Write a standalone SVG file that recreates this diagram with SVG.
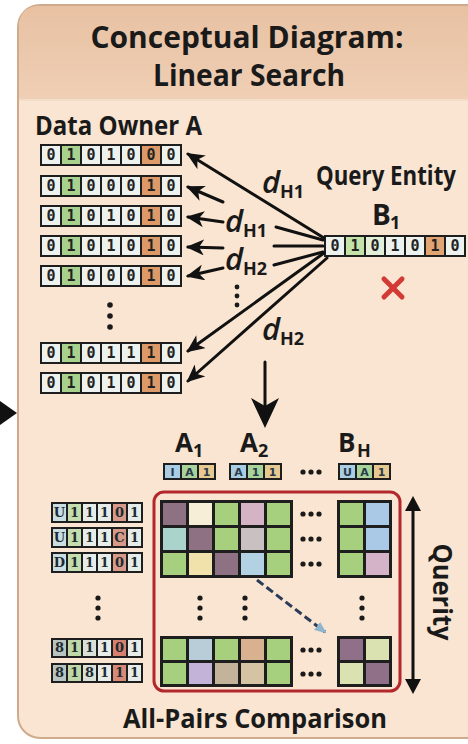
<svg xmlns="http://www.w3.org/2000/svg" width="468" height="744" viewBox="0 0 468 744">
<defs>
<style>
.hd{font-family:"Open Sans","Liberation Sans",sans-serif;font-weight:700;fill:#1a1a1a}
.it{font-family:"Open Sans","Liberation Sans",sans-serif;font-style:italic;font-weight:600;fill:#1a1a1a;font-size:31px}
.sb{font-family:"Open Sans","Liberation Sans",sans-serif;font-weight:700;fill:#1a1a1a;font-size:18px}
.bar{fill:#1e1e1e}
.dg{font-family:"DejaVu Sans Mono",monospace;font-weight:bold;font-size:15px;fill:#222;text-anchor:middle}
.dgs{font-family:"DejaVu Serif",serif;font-weight:bold;font-size:13px;fill:#1d2a30;text-anchor:middle}
.lt{font-family:"DejaVu Sans",sans-serif;font-weight:bold;font-size:11px;fill:#2a3a4a;text-anchor:middle}
.L{fill:#eef2ee}.G{fill:#a9d18e}.O{fill:#dd9a68}
.ln{stroke:#111;stroke-width:3;fill:none;stroke-linecap:round}
.dot{fill:#1a1a1a}
</style>
<marker id="ah" markerUnits="userSpaceOnUse" markerWidth="18" markerHeight="16" refX="16" refY="8" orient="auto">
<path d="M0,0 L18,8 L0,16 L5,8 z" fill="#111"/>
</marker>
<marker id="ahb" markerUnits="userSpaceOnUse" markerWidth="12" markerHeight="10" refX="10" refY="5" orient="auto">
<path d="M0,0 L12,5 L0,10 z" fill="#8fb4cc"/>
</marker>
<linearGradient id="band" x1="0" y1="0" x2="0" y2="1">
<stop offset="0" stop-color="#e8c1a2"/>
<stop offset="1" stop-color="#efcfb5"/>
</linearGradient>
</defs>
<rect width="468" height="744" fill="#ffffff"/>
<polygon points="0,401 17,413 0,425" fill="#111"/>
<g id="panel">
<rect x="18" y="5" width="480" height="733" rx="22" fill="#f9e5d1" stroke="#cfaa8c" stroke-width="2"/>
<path d="M19,100 L19,27 Q19,6 40,6 L468,6 L468,100 Z" fill="url(#band)"/>
<line x1="19" y1="100" x2="468" y2="100" stroke="#f3dcc8" stroke-width="2"/>
</g>
<g id="title">
<text class="hd" x="247" y="48" font-size="30" text-anchor="middle" textLength="313" lengthAdjust="spacingAndGlyphs">Conceptual Diagram:</text>
<text class="hd" x="249" y="86" font-size="31" text-anchor="middle" textLength="192" lengthAdjust="spacingAndGlyphs">Linear Search</text>
</g>
<g id="data-owner-a">
<text class="hd" x="35" y="135" font-size="26" textLength="167" lengthAdjust="spacingAndGlyphs">Data Owner A</text>
<g id="a-row1" transform="translate(40,144)"><rect class="bar" width="142" height="22"/><rect class="L" x="2" y="2" width="18" height="18"/><rect class="G" x="22" y="2" width="18" height="18"/><rect class="L" x="42" y="2" width="18" height="18"/><rect class="L" x="62" y="2" width="18" height="18"/><rect class="L" x="82" y="2" width="18" height="18"/><rect class="O" x="102" y="2" width="18" height="18"/><rect class="L" x="122" y="2" width="18" height="18"/><text class="dg" x="11" y="16">0</text><text class="dg" x="31" y="16">1</text><text class="dg" x="51" y="16">0</text><text class="dg" x="71" y="16">1</text><text class="dg" x="91" y="16">0</text><text class="dg" x="111" y="16">0</text><text class="dg" x="131" y="16">0</text></g>
<g id="a-row2" transform="translate(40,175)"><rect class="bar" width="142" height="22"/><rect class="L" x="2" y="2" width="18" height="18"/><rect class="G" x="22" y="2" width="18" height="18"/><rect class="L" x="42" y="2" width="18" height="18"/><rect class="L" x="62" y="2" width="18" height="18"/><rect class="L" x="82" y="2" width="18" height="18"/><rect class="O" x="102" y="2" width="18" height="18"/><rect class="L" x="122" y="2" width="18" height="18"/><text class="dg" x="11" y="16">0</text><text class="dg" x="31" y="16">1</text><text class="dg" x="51" y="16">0</text><text class="dg" x="71" y="16">0</text><text class="dg" x="91" y="16">0</text><text class="dg" x="111" y="16">1</text><text class="dg" x="131" y="16">0</text></g>
<g id="a-row3" transform="translate(40,205)"><rect class="bar" width="142" height="22"/><rect class="L" x="2" y="2" width="18" height="18"/><rect class="G" x="22" y="2" width="18" height="18"/><rect class="L" x="42" y="2" width="18" height="18"/><rect class="L" x="62" y="2" width="18" height="18"/><rect class="L" x="82" y="2" width="18" height="18"/><rect class="O" x="102" y="2" width="18" height="18"/><rect class="L" x="122" y="2" width="18" height="18"/><text class="dg" x="11" y="16">0</text><text class="dg" x="31" y="16">1</text><text class="dg" x="51" y="16">0</text><text class="dg" x="71" y="16">1</text><text class="dg" x="91" y="16">0</text><text class="dg" x="111" y="16">1</text><text class="dg" x="131" y="16">0</text></g>
<g id="a-row4" transform="translate(40,235)"><rect class="bar" width="142" height="22"/><rect class="L" x="2" y="2" width="18" height="18"/><rect class="G" x="22" y="2" width="18" height="18"/><rect class="L" x="42" y="2" width="18" height="18"/><rect class="L" x="62" y="2" width="18" height="18"/><rect class="L" x="82" y="2" width="18" height="18"/><rect class="O" x="102" y="2" width="18" height="18"/><rect class="L" x="122" y="2" width="18" height="18"/><text class="dg" x="11" y="16">0</text><text class="dg" x="31" y="16">1</text><text class="dg" x="51" y="16">0</text><text class="dg" x="71" y="16">1</text><text class="dg" x="91" y="16">0</text><text class="dg" x="111" y="16">1</text><text class="dg" x="131" y="16">0</text></g>
<g id="a-row5" transform="translate(40,265)"><rect class="bar" width="142" height="22"/><rect class="L" x="2" y="2" width="18" height="18"/><rect class="G" x="22" y="2" width="18" height="18"/><rect class="L" x="42" y="2" width="18" height="18"/><rect class="L" x="62" y="2" width="18" height="18"/><rect class="L" x="82" y="2" width="18" height="18"/><rect class="O" x="102" y="2" width="18" height="18"/><rect class="L" x="122" y="2" width="18" height="18"/><text class="dg" x="11" y="16">0</text><text class="dg" x="31" y="16">1</text><text class="dg" x="51" y="16">0</text><text class="dg" x="71" y="16">0</text><text class="dg" x="91" y="16">0</text><text class="dg" x="111" y="16">1</text><text class="dg" x="131" y="16">0</text></g>
<circle class="dot" cx="110" cy="305" r="2.8"/><circle class="dot" cx="110" cy="316" r="2.8"/><circle class="dot" cx="110" cy="327" r="2.8"/>
<g id="a-row6" transform="translate(40,342)"><rect class="bar" width="142" height="22"/><rect class="L" x="2" y="2" width="18" height="18"/><rect class="G" x="22" y="2" width="18" height="18"/><rect class="L" x="42" y="2" width="18" height="18"/><rect class="L" x="62" y="2" width="18" height="18"/><rect class="L" x="82" y="2" width="18" height="18"/><rect class="O" x="102" y="2" width="18" height="18"/><rect class="L" x="122" y="2" width="18" height="18"/><text class="dg" x="11" y="16">0</text><text class="dg" x="31" y="16">1</text><text class="dg" x="51" y="16">0</text><text class="dg" x="71" y="16">1</text><text class="dg" x="91" y="16">1</text><text class="dg" x="111" y="16">1</text><text class="dg" x="131" y="16">0</text></g>
<g id="a-row7" transform="translate(40,372)"><rect class="bar" width="142" height="22"/><rect class="L" x="2" y="2" width="18" height="18"/><rect class="G" x="22" y="2" width="18" height="18"/><rect class="L" x="42" y="2" width="18" height="18"/><rect class="L" x="62" y="2" width="18" height="18"/><rect class="L" x="82" y="2" width="18" height="18"/><rect class="O" x="102" y="2" width="18" height="18"/><rect class="L" x="122" y="2" width="18" height="18"/><text class="dg" x="11" y="16">0</text><text class="dg" x="31" y="16">1</text><text class="dg" x="51" y="16">0</text><text class="dg" x="71" y="16">1</text><text class="dg" x="91" y="16">0</text><text class="dg" x="111" y="16">1</text><text class="dg" x="131" y="16">0</text></g>
</g>
<g id="query-entity">
<text class="hd" x="316" y="185" font-size="26" textLength="140" lengthAdjust="spacingAndGlyphs">Query Entity</text>
<text class="hd" x="372" y="225" font-size="28">B</text><text class="sb" x="390" y="229">1</text>
<g id="b1-bar" transform="translate(324,235)"><rect class="bar" width="142" height="22"/><rect class="L" x="2" y="2" width="18" height="18"/><rect fill="#c5e3a8" x="22" y="2" width="18" height="18"/><rect fill="#e3efd8" x="42" y="2" width="18" height="18"/><rect class="L" x="62" y="2" width="18" height="18"/><rect class="L" x="82" y="2" width="18" height="18"/><rect fill="#e2a472" x="102" y="2" width="18" height="18"/><rect class="L" x="122" y="2" width="18" height="18"/><text class="dg" x="11" y="16">0</text><text class="dg" x="31" y="16">1</text><text class="dg" x="51" y="16">0</text><text class="dg" x="71" y="16">1</text><text class="dg" x="91" y="16">0</text><text class="dg" x="111" y="16">1</text><text class="dg" x="131" y="16">0</text></g>
<g id="red-x" stroke="#d23a36" stroke-width="5" stroke-linecap="round"><line x1="384" y1="279" x2="402" y2="297"/><line x1="402" y1="279" x2="384" y2="297"/></g>
</g>
<g id="connectors">
<line class="ln" x1="324" y1="238" x2="188" y2="154" marker-end="url(#ah)"/>
<line class="ln" x1="223" y1="202" x2="188" y2="187" marker-end="url(#ah)"/>
<line class="ln" x1="276" y1="227" x2="323" y2="240"/>
<line class="ln" x1="223" y1="222" x2="188" y2="217" marker-end="url(#ah)"/>
<line class="ln" x1="274" y1="246" x2="323" y2="246"/>
<line class="ln" x1="223" y1="248" x2="188" y2="247" marker-end="url(#ah)"/>
<line class="ln" x1="274" y1="265" x2="323" y2="252"/>
<line class="ln" x1="223" y1="268" x2="188" y2="276" marker-end="url(#ah)"/>
<line class="ln" x1="324" y1="253" x2="188" y2="351" marker-end="url(#ah)"/>
<line class="ln" x1="327" y1="258" x2="188" y2="381" marker-end="url(#ah)"/>
<circle class="dot" cx="237" cy="287" r="2.4"/><circle class="dot" cx="237" cy="296" r="2.4"/><circle class="dot" cx="237" cy="305" r="2.4"/>
<text class="it" x="262" y="193">d</text><text class="sb" x="280" y="198">H1</text>
<text class="it" x="225" y="232">d</text><text class="sb" x="243" y="237">H1</text>
<text class="it" x="225" y="270">d</text><text class="sb" x="243" y="275">H2</text>
<text class="it" x="262" y="340">d</text><text class="sb" x="280" y="345">H2</text>
<line class="ln" x1="265" y1="362" x2="265" y2="405"/>
<polygon points="251,398 265,406 279,398 265,428" fill="#111"/>
<line x1="257" y1="580" x2="325" y2="632" stroke="#2c3c58" stroke-width="3" stroke-dasharray="8 4" marker-end="url(#ahb)"/>
<line class="ln" x1="413" y1="508" x2="413" y2="682"/>
<polygon points="405,511 413,496 421,511" fill="#111"/>
<polygon points="405,679 413,694 421,679" fill="#111"/>
<text class="hd" transform="translate(433,592) rotate(90)" font-size="27" text-anchor="middle" textLength="97" lengthAdjust="spacingAndGlyphs">Querity</text>
</g>
<g id="entities-header">
<text class="hd" x="175" y="452" font-size="26">A</text><text class="sb" x="193" y="457" font-size="17">1</text>
<text class="hd" x="240" y="452" font-size="26">A</text><text class="sb" x="258" y="457" font-size="17">2</text>
<text class="hd" x="338" y="452" font-size="26">B</text><text class="sb" x="357" y="457" font-size="14">H</text>
<g transform="translate(163,463)"><rect class="bar" width="53" height="17"/><rect fill="#a9cde2" x="2" y="2" width="15" height="13"/><rect fill="#a8d39a" x="19" y="2" width="15" height="13"/><rect fill="#e6c991" x="36" y="2" width="15" height="13"/><text class="lt" x="9.5" y="13">I</text><text class="lt" x="26.5" y="13">A</text><text class="lt" x="43.5" y="13">1</text></g>
<g transform="translate(229,463)"><rect class="bar" width="53" height="17"/><rect fill="#a9cde2" x="2" y="2" width="15" height="13"/><rect fill="#a8d39a" x="19" y="2" width="15" height="13"/><rect fill="#e6c991" x="36" y="2" width="15" height="13"/><text class="lt" x="9.5" y="13">A</text><text class="lt" x="26.5" y="13">1</text><text class="lt" x="43.5" y="13">1</text></g>
<circle class="dot" cx="303" cy="472" r="2.6"/><circle class="dot" cx="311" cy="472" r="2.6"/><circle class="dot" cx="319" cy="472" r="2.6"/>
<g transform="translate(338,463)"><rect class="bar" width="53" height="17"/><rect fill="#a9cde2" x="2" y="2" width="15" height="13"/><rect fill="#a8d39a" x="19" y="2" width="15" height="13"/><rect fill="#e6c991" x="36" y="2" width="15" height="13"/><text class="lt" x="9.5" y="13">U</text><text class="lt" x="26.5" y="13">A</text><text class="lt" x="43.5" y="13">1</text></g>
</g>
<g id="query-rows">
<g transform="translate(51,502)"><rect class="bar" width="92" height="21"/><rect fill="#c9dde3" x="2" y="2" width="13" height="17"/><rect fill="#c5dcae" x="17" y="2" width="13" height="17"/><rect fill="#e6ece8" x="32" y="2" width="13" height="17"/><rect fill="#e6ece8" x="47" y="2" width="13" height="17"/><rect fill="#d89a88" x="62" y="2" width="13" height="17"/><rect fill="#e6ece8" x="77" y="2" width="13" height="17"/><text class="dgs" x="8.5" y="15">U</text><text class="dgs" x="23.5" y="15">1</text><text class="dgs" x="38.5" y="15">1</text><text class="dgs" x="53.5" y="15">1</text><text class="dgs" x="68.5" y="15">0</text><text class="dgs" x="83.5" y="15">1</text></g>
<g transform="translate(51,527)"><rect class="bar" width="92" height="21"/><rect fill="#c9dde3" x="2" y="2" width="13" height="17"/><rect fill="#c5dcae" x="17" y="2" width="13" height="17"/><rect fill="#e6ece8" x="32" y="2" width="13" height="17"/><rect fill="#e6ece8" x="47" y="2" width="13" height="17"/><rect fill="#d89a88" x="62" y="2" width="13" height="17"/><rect fill="#e6ece8" x="77" y="2" width="13" height="17"/><text class="dgs" x="8.5" y="15">U</text><text class="dgs" x="23.5" y="15">1</text><text class="dgs" x="38.5" y="15">1</text><text class="dgs" x="53.5" y="15">1</text><text class="dgs" x="68.5" y="15">C</text><text class="dgs" x="83.5" y="15">1</text></g>
<g transform="translate(51,552)"><rect class="bar" width="92" height="21"/><rect fill="#c9dde3" x="2" y="2" width="13" height="17"/><rect fill="#c5dcae" x="17" y="2" width="13" height="17"/><rect fill="#e6ece8" x="32" y="2" width="13" height="17"/><rect fill="#e6ece8" x="47" y="2" width="13" height="17"/><rect fill="#d89a88" x="62" y="2" width="13" height="17"/><rect fill="#e6ece8" x="77" y="2" width="13" height="17"/><text class="dgs" x="8.5" y="15">D</text><text class="dgs" x="23.5" y="15">1</text><text class="dgs" x="38.5" y="15">1</text><text class="dgs" x="53.5" y="15">1</text><text class="dgs" x="68.5" y="15">0</text><text class="dgs" x="83.5" y="15">1</text></g>
<circle class="dot" cx="98" cy="598" r="2.6"/><circle class="dot" cx="98" cy="608" r="2.6"/><circle class="dot" cx="98" cy="618" r="2.6"/>
<g transform="translate(51,638)"><rect class="bar" width="92" height="20"/><rect fill="#b8c4c0" x="2" y="2" width="13" height="16"/><rect fill="#c0d8a8" x="17" y="2" width="13" height="16"/><rect fill="#d8e0d8" x="32" y="2" width="13" height="16"/><rect fill="#e8ece8" x="47" y="2" width="13" height="16"/><rect fill="#d88070" x="62" y="2" width="13" height="16"/><rect fill="#e8ece8" x="77" y="2" width="13" height="16"/><text class="dgs" x="8.5" y="14">8</text><text class="dgs" x="23.5" y="14">1</text><text class="dgs" x="38.5" y="14">1</text><text class="dgs" x="53.5" y="14">1</text><text class="dgs" x="68.5" y="14">0</text><text class="dgs" x="83.5" y="14">1</text></g>
<g transform="translate(51,663)"><rect class="bar" width="92" height="20"/><rect fill="#b8c4c0" x="2" y="2" width="13" height="16"/><rect fill="#c0d8a8" x="17" y="2" width="13" height="16"/><rect fill="#d8e0d8" x="32" y="2" width="13" height="16"/><rect fill="#e8ece8" x="47" y="2" width="13" height="16"/><rect fill="#d88a78" x="62" y="2" width="13" height="16"/><rect fill="#e8ece8" x="77" y="2" width="13" height="16"/><text class="dgs" x="8.5" y="14">8</text><text class="dgs" x="23.5" y="14">1</text><text class="dgs" x="38.5" y="14">8</text><text class="dgs" x="53.5" y="14">1</text><text class="dgs" x="68.5" y="14">1</text><text class="dgs" x="83.5" y="14">1</text></g>
</g>
<g id="comparison-matrix">
<rect x="154" y="492" width="246" height="199" rx="10" fill="none" stroke="#b3282c" stroke-width="3"/>
<g transform="translate(160,500)"><rect class="bar" width="133" height="78"/>
<rect fill="#8e7183" x="3" y="3" width="23" height="22"/><rect fill="#f6eed6" x="29" y="3" width="23" height="22"/><rect fill="#a6d07e" x="55" y="3" width="23" height="22"/><rect fill="#d4b3c4" x="81" y="3" width="23" height="22"/><rect fill="#a6d07e" x="107" y="3" width="23" height="22"/>
<rect fill="#a9d3cb" x="3" y="28" width="23" height="22"/><rect fill="#8e7183" x="29" y="28" width="23" height="22"/><rect fill="#a6d07e" x="55" y="28" width="23" height="22"/><rect fill="#c9c0c2" x="81" y="28" width="23" height="22"/><rect fill="#a6d07e" x="107" y="28" width="23" height="22"/>
<rect fill="#a6d07e" x="3" y="53" width="23" height="22"/><rect fill="#f1e2ab" x="29" y="53" width="23" height="22"/><rect fill="#8e7183" x="55" y="53" width="23" height="22"/><rect fill="#b2d2e3" x="81" y="53" width="23" height="22"/><rect fill="#a6d07e" x="107" y="53" width="23" height="22"/>
</g>
<g transform="translate(337,500)"><rect class="bar" width="55" height="78"/>
<rect fill="#a6d07e" x="3" y="3" width="23" height="22"/><rect fill="#a9c9e6" x="29" y="3" width="23" height="22"/>
<rect fill="#a6d07e" x="3" y="28" width="23" height="22"/><rect fill="#a9c9e6" x="29" y="28" width="23" height="22"/>
<rect fill="#a6d07e" x="3" y="53" width="23" height="22"/><rect fill="#d4b3c8" x="29" y="53" width="23" height="22"/>
</g>
<circle class="dot" cx="303" cy="514" r="2.6"/><circle class="dot" cx="311" cy="514" r="2.6"/><circle class="dot" cx="319" cy="514" r="2.6"/>
<circle class="dot" cx="303" cy="539" r="2.6"/><circle class="dot" cx="311" cy="539" r="2.6"/><circle class="dot" cx="319" cy="539" r="2.6"/>
<circle class="dot" cx="303" cy="564" r="2.6"/><circle class="dot" cx="311" cy="564" r="2.6"/><circle class="dot" cx="319" cy="564" r="2.6"/>
<circle class="dot" cx="200" cy="598" r="2.6"/><circle class="dot" cx="200" cy="608" r="2.6"/><circle class="dot" cx="200" cy="618" r="2.6"/>
<circle class="dot" cx="245" cy="598" r="2.6"/><circle class="dot" cx="245" cy="608" r="2.6"/><circle class="dot" cx="245" cy="618" r="2.6"/>
<circle class="dot" cx="362" cy="598" r="2.6"/><circle class="dot" cx="362" cy="608" r="2.6"/><circle class="dot" cx="362" cy="618" r="2.6"/>
<g transform="translate(160,636)"><rect class="bar" width="133" height="51"/>
<rect fill="#a6d07e" x="3" y="3" width="23" height="21"/><rect fill="#b9cdd9" x="29" y="3" width="23" height="21"/><rect fill="#a6d07e" x="55" y="3" width="23" height="21"/><rect fill="#d8b190" x="81" y="3" width="23" height="21"/><rect fill="#a6d07e" x="107" y="3" width="23" height="21"/>
<rect fill="#a6d07e" x="3" y="27" width="23" height="21"/><rect fill="#c3b3d9" x="29" y="27" width="23" height="21"/><rect fill="#c3b39b" x="55" y="27" width="23" height="21"/><rect fill="#d4c4a4" x="81" y="27" width="23" height="21"/><rect fill="#a6d07e" x="107" y="27" width="23" height="21"/>
</g>
<g transform="translate(337,636)"><rect class="bar" width="55" height="51"/>
<rect fill="#907088" x="3" y="3" width="23" height="21"/><rect fill="#d9e2b0" x="29" y="3" width="23" height="21"/>
<rect fill="#d9e2b0" x="3" y="27" width="23" height="21"/><rect fill="#907088" x="29" y="27" width="23" height="21"/>
</g>
<circle class="dot" cx="303" cy="650" r="2.6"/><circle class="dot" cx="311" cy="650" r="2.6"/><circle class="dot" cx="319" cy="650" r="2.6"/>
<circle class="dot" cx="303" cy="674" r="2.6"/><circle class="dot" cx="311" cy="674" r="2.6"/><circle class="dot" cx="319" cy="674" r="2.6"/>
</g>
<g id="footer">
<text class="hd" x="255" y="728" font-size="27" text-anchor="middle" textLength="264" lengthAdjust="spacingAndGlyphs">All-Pairs Comparison</text>
</g>
</svg>
